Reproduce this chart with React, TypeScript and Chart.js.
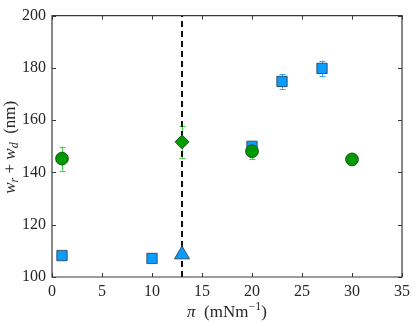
import React, { useEffect, useRef } from 'react';
import { Chart, registerables } from 'chart.js';
Chart.register(...registerables);

// ---- data ----
const circleX = [1, 20, 30];
const circleY = [145.3, 148.1, 145.0];
const circleErr = [4.6, 3.0, 0.4];
const diamondX = [13];
const diamondY = [151.7];
const diamondErr = [6.1];
const squareX = [1, 10, 20, 23, 27];
const squareY = [108.2, 107.1, 150.0, 174.8, 179.8];
const squareErr = [0, 0, 1.0, 2.8, 3.0];
const triangleX = [13];
const triangleY = [108.6];
const triangleErr = [0];
const dashX = 13;
const xMin = 0, xMax = 35, xStep = 5;
const yMin = 100, yMax = 200, yStep = 20;

const GREEN = '#009a00';
const GREEN_EDGE = '#0d3d0d';
const GREEN_ERR = '#3fcf3f';
const BLUE = '#0a9cff';
const BLUE_EDGE = '#2a3540';
const BLUE_ERR = '#3aaaff';
const AXIS = '#3a3a3a';
const TEXT = '#262626';
const FONT = 'Liberation Serif';

const pts = (xs: number[], ys: number[]) => xs.map((x, i) => ({ x, y: ys[i] }));

const errorBarPlugin = {
  id: 'errorBars',
  beforeDatasetsDraw(chart: any) {
    const ctx = chart.ctx;
    const ys = chart.scales.y;
    chart.data.datasets.forEach((ds: any, di: number) => {
      if (!ds.errors) return;
      const meta = chart.getDatasetMeta(di);
      ctx.save();
      ctx.strokeStyle = ds.errorColor;
      ctx.lineWidth = 1;
      meta.data.forEach((el: any, i: number) => {
        const e = ds.errors[i];
        if (!e) return;
        const v = ds.data[i].y;
        const top = ys.getPixelForValue(v + e);
        const bot = ys.getPixelForValue(v - e);
        const x = Math.round(el.x) + 0.5;
        const cap = 3;
        ctx.beginPath();
        ctx.moveTo(x, top); ctx.lineTo(x, bot);
        ctx.moveTo(x - cap, Math.round(top) + 0.5); ctx.lineTo(x + cap, Math.round(top) + 0.5);
        ctx.moveTo(x - cap, Math.round(bot) + 0.5); ctx.lineTo(x + cap, Math.round(bot) + 0.5);
        ctx.stroke();
      });
      ctx.restore();
    });
  },
};

const frameAndTitlesPlugin = {
  id: 'frameTitles',
  afterDraw(chart: any) {
    const ctx = chart.ctx;
    const { left, right, top, bottom } = chart.chartArea;
    const xs = chart.scales.x;
    const ys = chart.scales.y;
    ctx.save();
    ctx.strokeStyle = AXIS;
    ctx.lineWidth = 1.2;
    ctx.beginPath();
    ctx.rect(left, top, right - left, bottom - top);
    ctx.stroke();
    ctx.lineWidth = 1;
    const tl = 4;
    ctx.beginPath();
    xs.ticks.forEach((t: any) => {
      const px = Math.round(xs.getPixelForValue(t.value)) + 0.5;
      ctx.moveTo(px, bottom); ctx.lineTo(px, bottom - tl);
      ctx.moveTo(px, top); ctx.lineTo(px, top + tl);
    });
    ys.ticks.forEach((t: any) => {
      const py = Math.round(ys.getPixelForValue(t.value)) + 0.5;
      ctx.moveTo(left, py); ctx.lineTo(left + tl, py);
      ctx.moveTo(right, py); ctx.lineTo(right - tl, py);
    });
    ctx.stroke();

    // x title
    ctx.fillStyle = TEXT;
    ctx.textBaseline = 'alphabetic';
    const xParts = [
      { t: 'π', f: `italic 17px "${FONT}"`, dy: 0 },
      { t: '  (mNm', f: `17px "${FONT}"`, dy: 0 },
      { t: '−1', f: `12px "${FONT}"`, dy: -7 },
      { t: ')', f: `17px "${FONT}"`, dy: 0 },
    ];
    let w = 0;
    xParts.forEach(p => { ctx.font = p.f; w += ctx.measureText(p.t).width; });
    let cx = (left + right) / 2 - w / 2;
    const by = 317;
    xParts.forEach(p => { ctx.font = p.f; ctx.fillText(p.t, cx, by + p.dy); cx += ctx.measureText(p.t).width; });

    // y title
    ctx.save();
    ctx.translate(15, (top + bottom) / 2 + 1);
    ctx.rotate(-Math.PI / 2);
    const yParts = [
      { t: 'w', f: `italic 17px "${FONT}"`, dy: 0 },
      { t: 'r', f: `italic 12px "${FONT}"`, dy: 3 },
      { t: ' + ', f: `17px "${FONT}"`, dy: 0 },
      { t: 'w', f: `italic 17px "${FONT}"`, dy: 0 },
      { t: 'd', f: `italic 12px "${FONT}"`, dy: 3 },
      { t: '  (nm)', f: `17px "${FONT}"`, dy: 0 },
    ];
    w = 0;
    yParts.forEach(p => { ctx.font = p.f; w += ctx.measureText(p.t).width; });
    cx = -w / 2;
    yParts.forEach(p => { ctx.font = p.f; ctx.fillText(p.t, cx, p.dy); cx += ctx.measureText(p.t).width; });
    ctx.restore();
    ctx.restore();
  },
};

export default function App() {
  const ref = useRef<HTMLCanvasElement | null>(null);
  useEffect(() => {
    if (!ref.current) return;
    const chart = new Chart(ref.current, {
      type: 'scatter',
      data: {
        datasets: [
          {
            label: 'circles', data: pts(circleX, circleY), errors: circleErr, errorColor: GREEN_ERR,
            pointStyle: 'circle', pointRadius: 6.4, backgroundColor: GREEN, borderColor: GREEN_EDGE, borderWidth: 0.8,
          } as any,
          {
            label: 'diamond', data: pts(diamondX, diamondY), errors: diamondErr, errorColor: GREEN_ERR,
            pointStyle: 'rectRot', pointRadius: 7, backgroundColor: GREEN, borderColor: GREEN_EDGE, borderWidth: 0.8,
          } as any,
          {
            label: 'squares', data: pts(squareX, squareY), errors: squareErr, errorColor: BLUE_ERR,
            pointStyle: 'rect', pointRadius: 7.3, backgroundColor: BLUE, borderColor: BLUE_EDGE, borderWidth: 0.8,
          } as any,
          {
            label: 'triangle', data: pts(triangleX, triangleY), errors: triangleErr, errorColor: BLUE_ERR,
            pointStyle: 'triangle', pointRadius: 8.7, backgroundColor: BLUE, borderColor: BLUE_EDGE, borderWidth: 0.8,
          } as any,
          {
            type: 'line', label: 'dash', data: [{ x: dashX, y: yMin }, { x: dashX, y: yMax }],
            borderColor: '#111', borderWidth: 2, borderDash: [6, 4], pointRadius: 0, showLine: true, fill: false,
          } as any,
        ],
      },
      options: {
        animation: false,
        responsive: true,
        maintainAspectRatio: false,
        layout: { padding: { top: 6, right: 7, left: 0, bottom: 0 } },
        plugins: { legend: { display: false }, tooltip: { enabled: false } },
        scales: {
          x: {
            type: 'linear', min: xMin, max: xMax,
            ticks: { stepSize: xStep, color: TEXT, font: { family: FONT, size: 16 }, padding: 5, maxRotation: 0 },
            grid: { display: false, drawTicks: false },
            border: { display: false },
            afterFit: (s: any) => { s.height = 46; },
          },
          y: {
            type: 'linear', min: yMin, max: yMax,
            ticks: { stepSize: yStep, color: TEXT, font: { family: FONT, size: 16 }, padding: 6 },
            grid: { display: false, drawTicks: false },
            border: { display: false },
            afterFit: (s: any) => { s.width = 52; },
          },
        },
      } as any,
      plugins: [errorBarPlugin, frameAndTitlesPlugin],
    });
    return () => chart.destroy();
  }, []);
  return (
    <div style={{ position: 'absolute', left: 0, top: 0, width: 415, height: 323 }}>
      <canvas ref={ref} />
    </div>
  );
}
